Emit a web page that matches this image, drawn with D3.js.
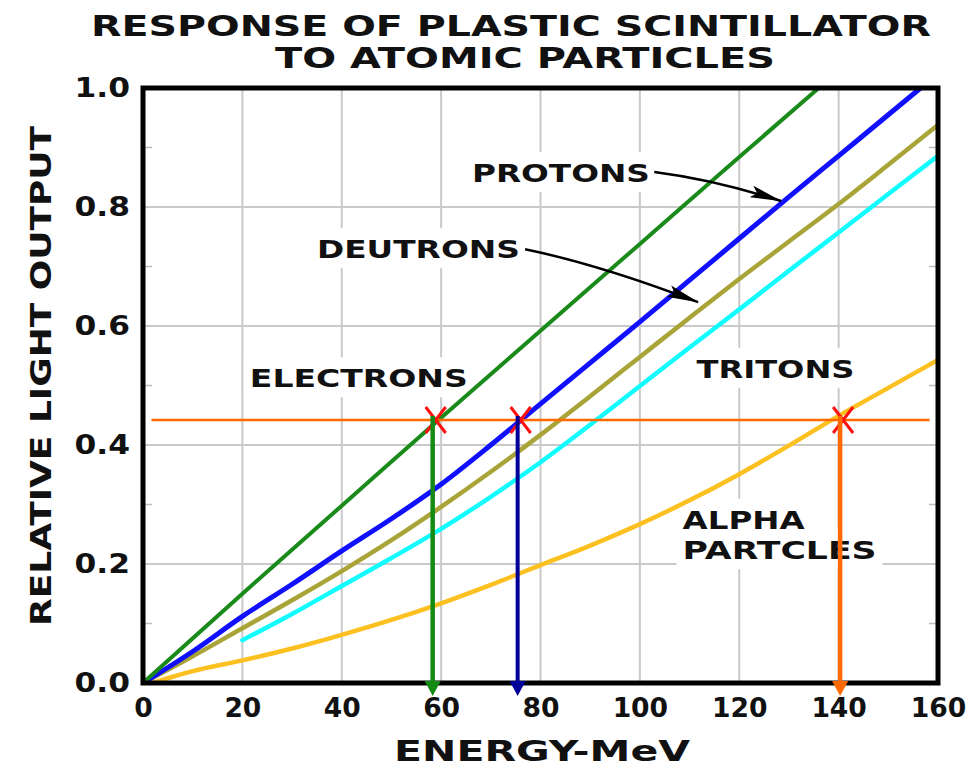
<!DOCTYPE html>
<html>
<head>
<meta charset="utf-8">
<script src="https://cdn.jsdelivr.net/npm/d3@7/dist/d3.min.js"></script>
<style>
  html, body { margin: 0; padding: 0; background: #fff; }
  svg { display: block; }
  text { font-family: "DejaVu Sans", "Liberation Sans", sans-serif; font-weight: bold; fill: #111; }
</style>
</head>
<body>
<svg id="chart" width="980" height="767"></svg>
<script>
// Axis ticks
const energyTicks = [0, 20, 40, 60, 80, 100, 120, 140, 160];
const outputTicks = [0.0, 0.2, 0.4, 0.6, 0.8, 1.0];
const minorOutputTicks = [0.1, 0.3, 0.5, 0.7, 0.9];

// Response curves: [energy MeV, relative light output]
const electrons = [[0,0],[20,0.150],[40,0.298],[60,0.446],[80,0.592],[100,0.738],[120,0.884],[136,1.0]];
const protons = [[0,0],[10,0.053],[20,0.112],[30,0.166],[40,0.222],[50,0.276],[60,0.334],[70,0.400],[80,0.469],
                 [90,0.538],[100,0.607],[110,0.677],[120,0.747],[130,0.817],[140,0.886],[150,0.955],[156.5,1.0]];
const deutrons = [[0,0],[10,0.045],[20,0.092],[30,0.139],[40,0.188],[50,0.240],[60,0.296],[70,0.355],[80,0.417],
                  [90,0.482],[100,0.548],[110,0.614],[120,0.679],[130,0.742],[140,0.805],[150,0.871],[160,0.938]];
const tritons = [[20,0.072],[30,0.116],[40,0.163],[50,0.210],[60,0.259],[70,0.313],[80,0.371],[90,0.434],
                 [100,0.499],[110,0.564],[120,0.628],[130,0.693],[140,0.757],[150,0.822],[160,0.886]];
const alphas = [[2,0],[5,0.008],[10,0.020],[20,0.038],[30,0.058],[40,0.081],[50,0.106],[60,0.134],[70,0.165],
                [80,0.198],[90,0.231],[100,0.267],[110,0.307],[120,0.351],[130,0.399],[140,0.449],[150,0.496],[160,0.543]];

// Reference light level and the energies where it meets electrons, protons and alphas
const referenceOutput = 0.442;
const referenceSpan = [1.7, 158.3];
const crossingEnergies = [58.3, 75.4, 140.3];

const svg = d3.select("#chart");
const x = d3.scaleLinear().domain([0, 160]).range([143, 938]);
const y = d3.scaleLinear().domain([0, 1]).range([683, 88]);

// Title
svg.append("text").attr("x", 511).attr("y", 36).attr("text-anchor", "middle")
  .attr("font-size", 29).attr("textLength", 840).attr("lengthAdjust", "spacingAndGlyphs")
  .text("RESPONSE OF PLASTIC SCINTILLATOR");
svg.append("text").attr("x", 525).attr("y", 68).attr("text-anchor", "middle")
  .attr("font-size", 29).attr("textLength", 500).attr("lengthAdjust", "spacingAndGlyphs")
  .text("TO ATOMIC PARTICLES");

// Grid
const grid = svg.append("g").attr("stroke", "#c9c9c9").attr("stroke-width", 2);
grid.selectAll(".gx").data(energyTicks.slice(1, -1)).join("line")
  .attr("x1", d => x(d)).attr("x2", d => x(d)).attr("y1", y(0)).attr("y2", y(1));
grid.selectAll(".gy").data(outputTicks.slice(1, -1)).join("line")
  .attr("x1", x(0)).attr("x2", x(160)).attr("y1", d => y(d)).attr("y2", d => y(d));
// Minor ticks on both vertical edges
const minor = svg.append("g").attr("stroke", "#bdbdbd").attr("stroke-width", 1.5);
minor.selectAll(".ml").data(minorOutputTicks).join("line")
  .attr("x1", x(0)).attr("x2", x(0) + 9).attr("y1", d => y(d)).attr("y2", d => y(d));
minor.selectAll(".mr").data(minorOutputTicks).join("line")
  .attr("x1", x(160) - 9).attr("x2", x(160)).attr("y1", d => y(d)).attr("y2", d => y(d));

// Curve labels; a white backing breaks the grid behind each one
const labels = [
  { text: "PROTONS",   E: 66.2,  L: 0.842, w: 178 },
  { text: "DEUTRONS",  E: 35.0,  L: 0.714, w: 203 },
  { text: "ELECTRONS", E: 21.5,  L: 0.497, w: 218 },
  { text: "TRITONS",   E: 111.4, L: 0.513, w: 158 },
  { text: "ALPHA",     E: 108.6, L: 0.259, w: 122 },
  { text: "PARTCLES",  E: 108.6, L: 0.208, w: 194 }
];
svg.append("g").selectAll("rect").data(labels).join("rect")
  .attr("x", d => x(d.E) - 6).attr("y", d => y(d.L) - 30).attr("width", d => d.w + 12).attr("height", 40)
  .attr("fill", "#fff");

// Curves
svg.append("clipPath").attr("id", "clip").append("rect")
  .attr("x", x(0)).attr("y", y(1)).attr("width", x(160) - x(0)).attr("height", y(0) - y(1));
const plot = svg.append("g").attr("clip-path", "url(#clip)");
const line = d3.line().x(d => x(d[0])).y(d => y(d[1])).curve(d3.curveMonotoneX);
const series = [
  { data: alphas,    color: "#fcc121", w: 4.5 },
  { data: tritons,   color: "#12fbff", w: 4.5 },
  { data: deutrons,  color: "#a8a437", w: 4.5 },
  { data: protons,   color: "#1010ff", w: 5 },
  { data: electrons, color: "#1a8a1a", w: 4 }
];
plot.selectAll("path").data(series).join("path")
  .attr("d", d => line(d.data)).attr("fill", "none")
  .attr("stroke", d => d.color).attr("stroke-width", d => d.w)
  .attr("stroke-linejoin", "round").attr("stroke-linecap", "round");

svg.append("g").selectAll("text").data(labels).join("text")
  .attr("x", d => x(d.E)).attr("y", d => y(d.L)).attr("font-size", 24)
  .attr("textLength", d => d.w).attr("lengthAdjust", "spacingAndGlyphs")
  .text(d => d.text);

// Leader arrows from labels to curves
const defs = svg.append("defs");
defs.append("marker").attr("id", "leadHead").attr("viewBox", "0 -7 32 14")
  .attr("markerUnits", "userSpaceOnUse").attr("markerWidth", 32).attr("markerHeight", 14)
  .attr("refX", 31).attr("refY", 0).attr("orient", "auto")
  .append("path").attr("d", "M0,-6L32,0L0,6L6,0Z").attr("fill", "#000");
const leaders = [
  { from: [102.9, 0.859], ctrl: [115.1, 0.846], to: [128.4, 0.810] },
  { from: [76.9, 0.729],  ctrl: [92.0, 0.703],  to: [111.7, 0.640] }
];
svg.append("g").selectAll("path").data(leaders).join("path")
  .attr("d", d => `M${x(d.from[0])},${y(d.from[1])}Q${x(d.ctrl[0])},${y(d.ctrl[1])} ${x(d.to[0])},${y(d.to[1])}`)
  .attr("fill", "none").attr("stroke", "#000").attr("stroke-width", 2.5)
  .attr("marker-end", "url(#leadHead)");

// Reference level
svg.append("line").attr("x1", x(referenceSpan[0])).attr("x2", x(referenceSpan[1]))
  .attr("y1", y(referenceOutput)).attr("y2", y(referenceOutput))
  .attr("stroke", "#ff6a00").attr("stroke-width", 2.5);

// Crossing markers
const crossColors = ["#138a13", "#000099", "#ff6a00"];
const cross = svg.append("g").attr("stroke", "#ff1010").attr("stroke-width", 3);
cross.selectAll("path").data(crossingEnergies).join("path")
  .attr("fill", "none")
  .attr("d", d => {
    const cx = x(d) + 3, cy = y(referenceOutput);
    return `M${cx - 10},${cy - 13}L${cx + 10},${cy + 13}M${cx + 10},${cy - 13}L${cx - 10},${cy + 13}`;
  });

// Drop arrows to the energy axis
const drops = svg.append("g");
drops.selectAll("line").data(crossingEnergies).join("line")
  .attr("x1", d => x(d)).attr("x2", d => x(d))
  .attr("y1", y(referenceOutput) - 4).attr("y2", y(0) - 2)
  .attr("stroke", (d, i) => crossColors[i]).attr("stroke-width", (d, i) => i === 1 ? 4 : 4.5);

// Frame
svg.append("rect").attr("x", x(0)).attr("y", y(1)).attr("width", x(160) - x(0)).attr("height", y(0) - y(1))
  .attr("fill", "none").attr("stroke", "#000").attr("stroke-width", 5);

drops.selectAll("path").data(crossingEnergies).join("path")
  .attr("d", d => `M${x(d) - 8},${y(0) - 2}L${x(d) + 8},${y(0) - 2}L${x(d)},${y(0) + 13}Z`)
  .attr("fill", (d, i) => crossColors[i]);
drops.raise();

// Axes (labels only)
const xAxis = svg.append("g").attr("transform", `translate(0,${y(0)})`)
  .call(d3.axisBottom(x).tickValues(energyTicks).tickSize(0).tickPadding(16).tickFormat(d3.format("d")));
const yAxis = svg.append("g").attr("transform", `translate(${x(0)},0)`)
  .call(d3.axisLeft(y).tickValues(outputTicks).tickSize(0).tickPadding(13).tickFormat(d3.format(".1f")));
[xAxis, yAxis].forEach(a => {
  a.select(".domain").remove();
  a.selectAll("text").attr("font-size", 26).attr("fill", "#111")
    .attr("font-family", "DejaVu Sans").attr("font-weight", "bold")
    .attr("textLength", function() { return this.textContent.length * 18.5; })
    .attr("lengthAdjust", "spacingAndGlyphs");
});
xAxis.selectAll("text").attr("dy", "0.71em");

// Axis titles
svg.append("text").attr("x", 542).attr("y", 761).attr("text-anchor", "middle")
  .attr("font-size", 29).attr("textLength", 296).attr("lengthAdjust", "spacingAndGlyphs")
  .text("ENERGY-MeV");
svg.append("text").attr("transform", "translate(51,376) rotate(-90)").attr("text-anchor", "middle")
  .attr("font-size", 29).attr("textLength", 500).attr("lengthAdjust", "spacingAndGlyphs")
  .text("RELATIVE LIGHT OUTPUT");
</script>
</body>
</html>
